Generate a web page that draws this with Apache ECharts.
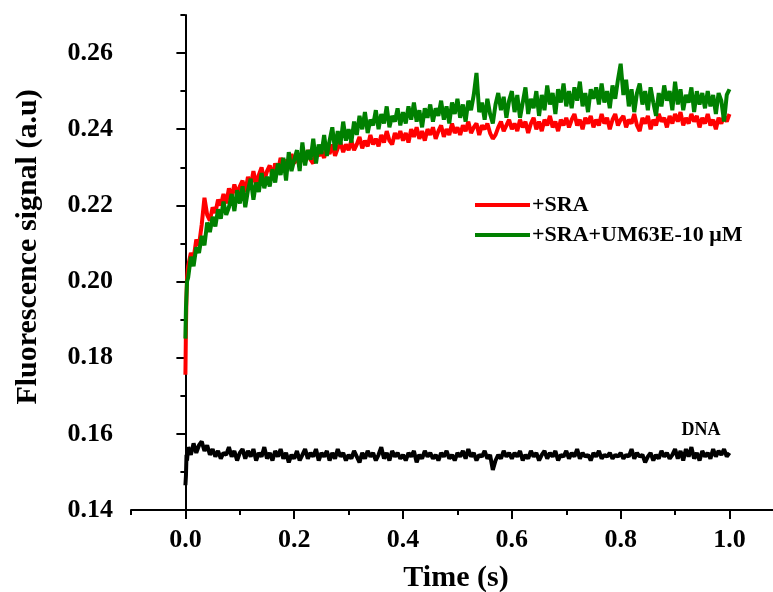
<!DOCTYPE html>
<html style="height: 100%">
  <head>
  <meta charset="utf-8">
    <script type="text/javascript" src="https://cdn.jsdelivr.net/npm/echarts@6/dist/echarts.min.js"></script>
  </head>
  <body style="width: 100%; height: 100%; margin: 0; background: #fff">
  <div id="main" style="width: 773px; height: 592px;"></div>
 <script type="text/javascript">

// time (s)
var time = [0, 0.001, 0.002, 0.003,
  0.005, 0.010, 0.015, 0.020, 0.025, 0.030, 0.035, 0.040, 0.045, 0.050,
  0.055, 0.060, 0.065, 0.070, 0.075, 0.080, 0.085, 0.090, 0.095, 0.100,
  0.105, 0.110, 0.115, 0.120, 0.125, 0.130, 0.135, 0.140, 0.145, 0.150,
  0.155, 0.160, 0.165, 0.170, 0.175, 0.180, 0.185, 0.190, 0.195, 0.200,
  0.205, 0.210, 0.215, 0.220, 0.225, 0.230, 0.235, 0.240, 0.245, 0.250,
  0.255, 0.260, 0.265, 0.270, 0.275, 0.280, 0.285, 0.290, 0.295, 0.300,
  0.305, 0.310, 0.315, 0.320, 0.325, 0.330, 0.335, 0.340, 0.345, 0.350,
  0.355, 0.360, 0.365, 0.370, 0.375, 0.380, 0.385, 0.390, 0.395, 0.400,
  0.405, 0.410, 0.415, 0.420, 0.425, 0.430, 0.435, 0.440, 0.445, 0.450,
  0.455, 0.460, 0.465, 0.470, 0.475, 0.480, 0.485, 0.490, 0.495, 0.500,
  0.505, 0.510, 0.515, 0.520, 0.525, 0.530, 0.535, 0.540, 0.545, 0.550,
  0.555, 0.560, 0.565, 0.570, 0.575, 0.580, 0.585, 0.590, 0.595, 0.600,
  0.605, 0.610, 0.615, 0.620, 0.625, 0.630, 0.635, 0.640, 0.645, 0.650,
  0.655, 0.660, 0.665, 0.670, 0.675, 0.680, 0.685, 0.690, 0.695, 0.700,
  0.705, 0.710, 0.715, 0.720, 0.725, 0.730, 0.735, 0.740, 0.745, 0.750,
  0.755, 0.760, 0.765, 0.770, 0.775, 0.780, 0.785, 0.790, 0.795, 0.800,
  0.805, 0.810, 0.815, 0.820, 0.825, 0.830, 0.835, 0.840, 0.845, 0.850,
  0.855, 0.860, 0.865, 0.870, 0.875, 0.880, 0.885, 0.890, 0.895, 0.900,
  0.905, 0.910, 0.915, 0.920, 0.925, 0.930, 0.935, 0.940, 0.945, 0.950,
  0.955, 0.960, 0.965, 0.970, 0.975, 0.980, 0.985, 0.990, 0.995, 1.000];

// +SRA
var sra = [0.1755, 0.1880, 0.1960, 0.2010,
  0.2040, 0.2075, 0.2060, 0.2110, 0.2095, 0.2150, 0.2220, 0.2175, 0.2160, 0.2195,
  0.2180, 0.2215, 0.2200, 0.2230, 0.2205, 0.2245, 0.2220, 0.2255, 0.2230, 0.2250,
  0.2265, 0.2235, 0.2275, 0.2250, 0.2290, 0.2255, 0.2280, 0.2300, 0.2265, 0.2290,
  0.2305, 0.2275, 0.2310, 0.2290, 0.2325, 0.2295, 0.2320, 0.2305, 0.2335, 0.2310,
  0.2330, 0.2305, 0.2340, 0.2315, 0.2345, 0.2320, 0.2310, 0.2350, 0.2330, 0.2340,
  0.2325, 0.2355, 0.2335, 0.2360, 0.2330, 0.2350, 0.2365, 0.2340, 0.2360, 0.2345,
  0.2370, 0.2345, 0.2360, 0.2380, 0.2350, 0.2370, 0.2355, 0.2385, 0.2360, 0.2375,
  0.2355, 0.2385, 0.2365, 0.2395, 0.2370, 0.2360, 0.2390, 0.2375, 0.2395, 0.2370,
  0.2390, 0.2365, 0.2400, 0.2380, 0.2405, 0.2375, 0.2395, 0.2370, 0.2400, 0.2385,
  0.2405, 0.2375, 0.2395, 0.2410, 0.2380, 0.2400, 0.2385, 0.2415, 0.2390, 0.2405,
  0.2385, 0.2410, 0.2395, 0.2420, 0.2390, 0.2405, 0.2415, 0.2385, 0.2410, 0.2400,
  0.2415, 0.2390, 0.2375, 0.2385, 0.2405, 0.2420, 0.2395, 0.2410, 0.2425, 0.2400,
  0.2415, 0.2395, 0.2425, 0.2405, 0.2420, 0.2390, 0.2415, 0.2430, 0.2400, 0.2420,
  0.2395, 0.2425, 0.2410, 0.2435, 0.2405, 0.2420, 0.2395, 0.2425, 0.2410, 0.2430,
  0.2405, 0.2425, 0.2440, 0.2410, 0.2425, 0.2400, 0.2430, 0.2415, 0.2435, 0.2405,
  0.2425, 0.2410, 0.2440, 0.2415, 0.2430, 0.2400, 0.2425, 0.2440, 0.2410, 0.2425,
  0.2435, 0.2405, 0.2425, 0.2415, 0.2440, 0.2410, 0.2395, 0.2430, 0.2415, 0.2435,
  0.2400, 0.2425, 0.2410, 0.2440, 0.2420, 0.2430, 0.2405, 0.2435, 0.2415, 0.2440,
  0.2420, 0.2445, 0.2410, 0.2430, 0.2415, 0.2440, 0.2420, 0.2435, 0.2405, 0.2430,
  0.2415, 0.2440, 0.2410, 0.2425, 0.2400, 0.2430, 0.2415, 0.2435, 0.2420, 0.2440];

// +SRA+UM63E-10 uM
var sraUm = [0.1850, 0.1930, 0.1965, 0.2000,
  0.2010, 0.2065, 0.2040, 0.2090, 0.2075, 0.2120, 0.2095, 0.2155, 0.2130, 0.2170,
  0.2145, 0.2190, 0.2165, 0.2210, 0.2175, 0.2195, 0.2230, 0.2185, 0.2240, 0.2205,
  0.2250, 0.2195, 0.2240, 0.2270, 0.2215, 0.2260, 0.2235, 0.2285, 0.2245, 0.2275,
  0.2250, 0.2295, 0.2260, 0.2310, 0.2280, 0.2325, 0.2265, 0.2340, 0.2290, 0.2320,
  0.2345, 0.2290, 0.2365, 0.2305, 0.2345, 0.2320, 0.2375, 0.2310, 0.2360, 0.2335,
  0.2385, 0.2330, 0.2370, 0.2405, 0.2345, 0.2395, 0.2360, 0.2420, 0.2370, 0.2400,
  0.2365, 0.2420, 0.2385, 0.2435, 0.2400, 0.2445, 0.2390, 0.2425, 0.2410, 0.2450,
  0.2400, 0.2440, 0.2415, 0.2460, 0.2405, 0.2435, 0.2420, 0.2455, 0.2410, 0.2445,
  0.2415, 0.2460, 0.2425, 0.2470, 0.2420, 0.2450, 0.2405, 0.2455, 0.2430, 0.2465,
  0.2420, 0.2455, 0.2435, 0.2475, 0.2425, 0.2460, 0.2415, 0.2470, 0.2440, 0.2480,
  0.2430, 0.2465, 0.2420, 0.2475, 0.2450, 0.2490, 0.2548, 0.2445, 0.2470, 0.2425,
  0.2480, 0.2440, 0.2415, 0.2465, 0.2495, 0.2450, 0.2485, 0.2430, 0.2475, 0.2500,
  0.2445, 0.2490, 0.2430, 0.2470, 0.2510, 0.2440, 0.2480, 0.2455, 0.2500, 0.2435,
  0.2490, 0.2450, 0.2515, 0.2465, 0.2495, 0.2440, 0.2505, 0.2470, 0.2520, 0.2460,
  0.2500, 0.2455, 0.2510, 0.2475, 0.2525, 0.2460, 0.2495, 0.2445, 0.2505, 0.2480,
  0.2510, 0.2465, 0.2520, 0.2470, 0.2500, 0.2455, 0.2515, 0.2480, 0.2530, 0.2572,
  0.2490, 0.2530, 0.2460, 0.2505, 0.2445, 0.2495, 0.2520, 0.2465, 0.2500, 0.2450,
  0.2510, 0.2470, 0.2435, 0.2495, 0.2460, 0.2515, 0.2475, 0.2500, 0.2450, 0.2525,
  0.2465, 0.2505, 0.2450, 0.2490, 0.2470, 0.2510, 0.2445, 0.2500, 0.2465, 0.2495,
  0.2455, 0.2500, 0.2460, 0.2490, 0.2440, 0.2495, 0.2475, 0.2420, 0.2490, 0.2505];

// DNA only
var dna = [0.1465, 0.1490, 0.1545, 0.1530,
  0.1565, 0.1545, 0.1575, 0.1550, 0.1570, 0.1580, 0.1555, 0.1570, 0.1545, 0.1560,
  0.1540, 0.1555, 0.1535, 0.1550, 0.1545, 0.1565, 0.1540, 0.1555, 0.1530, 0.1550,
  0.1560, 0.1535, 0.1555, 0.1540, 0.1560, 0.1530, 0.1550, 0.1540, 0.1565, 0.1535,
  0.1550, 0.1530, 0.1555, 0.1540, 0.1560, 0.1535, 0.1550, 0.1525, 0.1545, 0.1535,
  0.1555, 0.1530, 0.1545, 0.1560, 0.1535, 0.1550, 0.1540, 0.1560, 0.1530, 0.1550,
  0.1540, 0.1555, 0.1530, 0.1550, 0.1535, 0.1560, 0.1540, 0.1550, 0.1530, 0.1545,
  0.1535, 0.1555, 0.1540, 0.1525, 0.1550, 0.1535, 0.1555, 0.1540, 0.1550, 0.1530,
  0.1545, 0.1565, 0.1535, 0.1550, 0.1530, 0.1555, 0.1540, 0.1550, 0.1535, 0.1545,
  0.1530, 0.1550, 0.1540, 0.1555, 0.1525, 0.1545, 0.1535, 0.1555, 0.1540, 0.1550,
  0.1535, 0.1545, 0.1530, 0.1550, 0.1540, 0.1555, 0.1535, 0.1545, 0.1530, 0.1550,
  0.1540, 0.1555, 0.1535, 0.1560, 0.1540, 0.1550, 0.1530, 0.1545, 0.1540, 0.1555,
  0.1535, 0.1545, 0.1505, 0.1530, 0.1545, 0.1535, 0.1555, 0.1540, 0.1550, 0.1535,
  0.1550, 0.1540, 0.1555, 0.1530, 0.1545, 0.1535, 0.1555, 0.1540, 0.1550, 0.1530,
  0.1545, 0.1555, 0.1535, 0.1550, 0.1540, 0.1555, 0.1530, 0.1545, 0.1540, 0.1555,
  0.1535, 0.1550, 0.1540, 0.1560, 0.1535, 0.1550, 0.1540, 0.1545, 0.1530, 0.1550,
  0.1540, 0.1555, 0.1535, 0.1545, 0.1540, 0.1550, 0.1535, 0.1545, 0.1540, 0.1550,
  0.1535, 0.1545, 0.1540, 0.1560, 0.1535, 0.1550, 0.1540, 0.1545, 0.1525, 0.1540,
  0.1550, 0.1530, 0.1545, 0.1535, 0.1555, 0.1540, 0.1550, 0.1535, 0.1545, 0.1560,
  0.1535, 0.1555, 0.1530, 0.1560, 0.1540, 0.1565, 0.1535, 0.1550, 0.1530, 0.1555,
  0.1540, 0.1550, 0.1535, 0.1560, 0.1540, 0.1555, 0.1545, 0.1560, 0.1540, 0.1550];

// axis ticks
var xMajor = [0, 0.2, 0.4, 0.6, 0.8, 1.0];
var xMinor = [-0.1, 0.1, 0.3, 0.5, 0.7, 0.9];
var yMajor = [0.14, 0.16, 0.18, 0.20, 0.22, 0.24, 0.26];
var yMinor = [0.15, 0.17, 0.19, 0.21, 0.23, 0.25, 0.27];

var font = 'Liberation Serif';

var pairs = function(ys) {
    return time.map(function(t, i) { return [t, ys[i]]; });
}

var myChart = echarts.init(document.getElementById('main'));

var lineAxis = { show: true, lineStyle: { color: '#000', width: 2 } };

var option = {
    backgroundColor: '#fff',
    animation: false,
    grid: { left: 131, right: 0, top: 15, bottom: 82, containLabel: false },
    legend: {
        left: 470,
        top: 189,
        orient: 'vertical',
        icon: 'rect',
        itemWidth: 55,
        itemHeight: 4,
        itemGap: 8,
        data: ['+SRA', '+SRA+UM63E-10 \u03bcM'],
        textStyle: { fontFamily: font, fontWeight: 'bold', fontSize: 22, color: '#000', padding: [0, 0, 0, -3] }
    },
    xAxis: [
        {
            type: 'value', min: -0.1, max: 1.08, position: 'bottom',
            axisLine: lineAxis,
            splitLine: { show: false },
            axisTick: { show: true, customValues: xMajor, length: 9, lineStyle: { color: '#000', width: 2 } },
            axisLabel: {
                customValues: xMajor, margin: 17, color: '#000',
                fontFamily: font, fontWeight: 'bold', fontSize: 26,
                formatter: function(v) { return v.toFixed(1); }
            }
        },
        {
            type: 'value', min: -0.1, max: 1.08, position: 'bottom', gridIndex: 0,
            axisLine: { show: false },
            splitLine: { show: false },
            axisTick: { show: true, customValues: xMinor, length: 5, lineStyle: { color: '#000', width: 2 } },
            axisLabel: { show: false }
        }
    ],
    yAxis: [
        {
            type: 'value', min: 0.14, max: 0.27, position: 'left',
            axisLine: lineAxis,
            splitLine: { show: false },
            axisTick: { show: true, customValues: yMajor, length: 9, lineStyle: { color: '#000', width: 2 } },
            axisLabel: {
                customValues: yMajor, margin: 18, color: '#000',
                fontFamily: font, fontWeight: 'bold', fontSize: 26,
                formatter: function(v) { return v.toFixed(2); }
            }
        },
        {
            type: 'value', min: 0.14, max: 0.27, position: 'left', gridIndex: 0,
            axisLine: { show: false },
            splitLine: { show: false },
            axisTick: { show: true, customValues: yMinor, length: 5, lineStyle: { color: '#000', width: 2 } },
            axisLabel: { show: false }
        }
    ],
    graphic: [
        {   // y axis title
            type: 'text', x: 28, y: 247, rotation: Math.PI / 2,
            style: { text: 'Fluorescence signal (a.u)', fontFamily: font, fontWeight: 'bold', fontSize: 30,
                     fill: '#000', align: 'center', verticalAlign: 'middle' }
        },
        {   // x axis title
            type: 'text', x: 456, y: 578,
            style: { text: 'Time (s)', fontFamily: font, fontWeight: 'bold', fontSize: 30,
                     fill: '#000', align: 'center', verticalAlign: 'middle' }
        },
        {
            type: 'text', x: 701, y: 430,
            style: { text: 'DNA', fontFamily: font, fontWeight: 'bold', fontSize: 18,
                     fill: '#000', align: 'center', verticalAlign: 'middle' }
        }
    ],
    series: [
        {
            name: '+SRA', type: 'line', symbol: 'none', xAxisIndex: 0, yAxisIndex: 0,
            color: '#ff0000', lineStyle: { width: 4, color: '#ff0000' },
            data: pairs(sra)
        },
        {
            name: '+SRA+UM63E-10 \u03bcM', type: 'line', symbol: 'none', xAxisIndex: 0, yAxisIndex: 0,
            color: '#008000', lineStyle: { width: 4, color: '#008000' },
            data: pairs(sraUm)
        },
        {
            name: 'DNA', type: 'line', symbol: 'none', xAxisIndex: 0, yAxisIndex: 0,
            color: '#000', lineStyle: { width: 4, color: '#000' },
            data: pairs(dna)
        }
    ]
}

myChart.setOption(option);

 </script>
  </body>
</html>
